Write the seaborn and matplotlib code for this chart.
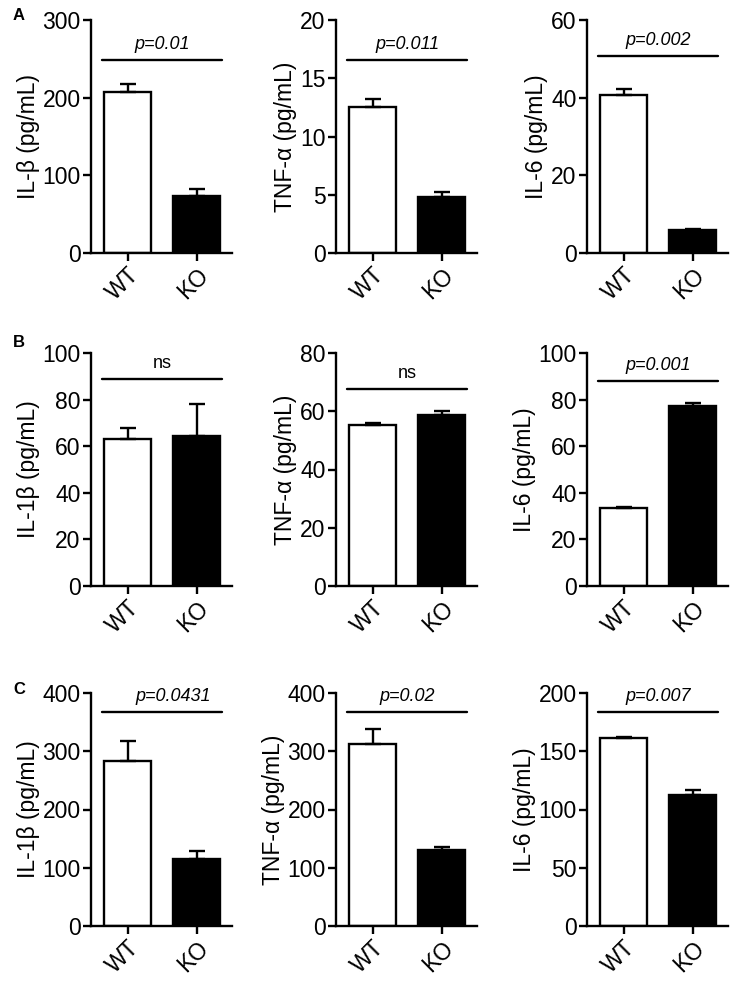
import numpy as np
import pandas as pd
import matplotlib
matplotlib.use('Agg')
import matplotlib.pyplot as plt
import seaborn as sns

# groups on the x axis
groups = ['WT', 'KO']

# row A
a_labels = ['IL-β (pg/mL)', 'TNF-α (pg/mL)', 'IL-6 (pg/mL)']
a_means = [[207, 73.5], [12.5, 4.8], [40.7, 5.9]]
a_errs = [[10.5, 9], [0.7, 0.4], [1.5, 0.2]]
a_ymax = [300, 20, 60]
a_step = [100, 5, 20]
a_bar_y = [248, 16.6, 50.7]
a_text = ['p=0.01', 'p=0.011', 'p=0.002']

# row B
b_labels = ['IL-1β (pg/mL)', 'TNF-α (pg/mL)', 'IL-6 (pg/mL)']
b_means = [[63.2, 64.5], [55.4, 58.8], [33.5, 77.3]]
b_errs = [[4.8, 13.5], [0.6, 1.4], [0.5, 1.2]]
b_ymax = [100, 80, 100]
b_step = [20, 20, 20]
b_bar_y = [89, 67.5, 88]
b_text = ['ns', 'ns', 'p=0.001']

# row C
c_labels = ['IL-1β (pg/mL)', 'TNF-α (pg/mL)', 'IL-6 (pg/mL)']
c_means = [[284, 115], [312, 130], [161, 112.5]]
c_errs = [[34, 14], [26, 5], [1.5, 4]]
c_ymax = [400, 400, 200]
c_step = [100, 100, 50]
c_bar_y = [367, 367, 184]
c_text = ['p=0.0431', 'p=0.02', 'p=0.007']

rows = [
    ('A', a_labels, a_means, a_errs, a_ymax, a_step, a_bar_y, a_text),
    ('B', b_labels, b_means, b_errs, b_ymax, b_step, b_bar_y, b_text),
    ('C', c_labels, c_means, c_errs, c_ymax, c_step, c_bar_y, c_text),
]

sns.set_style('ticks')
plt.rcParams['font.family'] = ['Liberation Sans', 'DejaVu Sans']
for k in ['text.color', 'axes.labelcolor', 'xtick.color', 'ytick.color', 'axes.edgecolor']:
    plt.rcParams[k] = 'black'

W, H = 738, 989
fig = plt.figure(figsize=(W / 100, H / 100), dpi=100)

col_left = [91, 336, 587]
row_top = [20, 353, 693]
ax_w, ax_h = 141, 233
letter_y = [15, 342, 690]

for r, (letter, labels, means, errs, ymax, step, bar_y, texts) in enumerate(rows):
    fig.text(13 / W, 1 - letter_y[r] / H, letter, fontsize=12, fontweight='bold',
             ha='left', va='center')
    for c in range(3):
        ax = fig.add_axes([col_left[c] / W, 1 - (row_top[r] + ax_h) / H, ax_w / W, ax_h / H])
        df = pd.DataFrame({'group': groups, 'value': means[c]})
        sns.barplot(data=df, x='group', y='value', hue='group', palette=['white', 'black'],
                    edgecolor='black', linewidth=1.7, width=0.68, legend=False, ax=ax)
        ax.errorbar([0, 1], means[c], yerr=[[0, 0], errs[c]], fmt='none', ecolor='black',
                    elinewidth=1.7, capsize=5.5, capthick=1.7, zorder=1)
        ax.set_xlim(-0.53, 1.51)
        ax.set_ylim(0, ymax[c])
        ax.set_yticks(np.arange(0, ymax[c] + step[c] / 2, step[c]))
        ax.set_xlabel('')
        ax.set_ylabel(labels[c], fontsize=16.5, labelpad=2)
        ax.tick_params(axis='both', labelsize=16.5, width=1.7, length=6, direction='out', pad=1.5)
        ax.set_xticks([0, 1])
        ax.set_xticklabels(groups, rotation=45, ha='right', rotation_mode='anchor')
        for s in ['left', 'bottom']:
            ax.spines[s].set_linewidth(1.7)
        sns.despine(ax=ax)
        # significance line
        ax.plot([-0.37, 1.36], [bar_y[c], bar_y[c]], color='black', lw=1.7, clip_on=False)
        tx = 0.66 if texts[c] == 'p=0.0431' else 0.5
        style = 'normal' if texts[c] == 'ns' else 'italic'
        ax.text(tx, bar_y[c] + ymax[c] * 0.03, texts[c], ha='center', va='bottom',
                fontsize=13, fontstyle=style)

fig.savefig('out.png', dpi=100)
